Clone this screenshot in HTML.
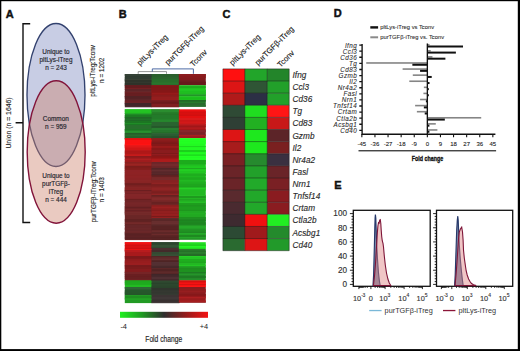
<!DOCTYPE html><html><head><meta charset="utf-8"><style>
html,body{margin:0;padding:0;background:#fff;}
svg{display:block;font-family:"Liberation Sans", sans-serif;}
</style></head><body>
<svg width="520" height="351" viewBox="0 0 520 351">
<rect x="0" y="0" width="520" height="351" fill="#fff"/>

<text x="5.8" y="17.5" font-size="11" font-weight="bold" fill="#111" stroke="#111" stroke-width="0.45">A</text>
<text x="118.8" y="17.7" font-size="11" font-weight="bold" fill="#111" stroke="#111" stroke-width="0.45">B</text>
<text x="222.4" y="17.7" font-size="11" font-weight="bold" fill="#111" stroke="#111" stroke-width="0.45">C</text>
<text x="333.8" y="17.4" font-size="11" font-weight="bold" fill="#111" stroke="#111" stroke-width="0.45">D</text>
<text x="334.3" y="189.3" font-size="11" font-weight="bold" fill="#111" stroke="#111" stroke-width="0.45">E</text>
<ellipse cx="56" cy="95" rx="29.0" ry="71.5" fill="#c8cde4" stroke="#33426f" stroke-width="1.35"/>
<ellipse cx="56.2" cy="152.0" rx="29.0" ry="71.2" fill="rgb(204,128,108)" fill-opacity="0.42" stroke="#82143a" stroke-width="1.4"/>
<path d="M30.2 23.8 H23.0 V222.5 H30.2 M23.0 122.7 H15.6" fill="none" stroke="#111" stroke-width="1.4"/>
<text x="56" y="53.8" font-size="6.4" text-anchor="middle" fill="#26262e" stroke="#26262e" stroke-width="0.16">Unique to</text>
<text x="56" y="61.8" font-size="6.4" text-anchor="middle" fill="#26262e" stroke="#26262e" stroke-width="0.16">pltLys-iTreg</text>
<text x="56" y="69.8" font-size="6.4" text-anchor="middle" fill="#26262e" stroke="#26262e" stroke-width="0.16">n = 243</text>
<text x="55.8" y="121.4" font-size="6.4" text-anchor="middle" fill="#26262e" stroke="#26262e" stroke-width="0.16">Common</text>
<text x="55.8" y="129.4" font-size="6.4" text-anchor="middle" fill="#26262e" stroke="#26262e" stroke-width="0.16">n = 959</text>
<text x="56" y="178.2" font-size="6.4" text-anchor="middle" fill="#26262e" stroke="#26262e" stroke-width="0.16">Unique to</text>
<text x="56" y="186.2" font-size="6.4" text-anchor="middle" fill="#26262e" stroke="#26262e" stroke-width="0.16">purTGFβ-</text>
<text x="56" y="194.0" font-size="6.4" text-anchor="middle" fill="#26262e" stroke="#26262e" stroke-width="0.16">iTreg</text>
<text x="56" y="202.2" font-size="6.4" text-anchor="middle" fill="#26262e" stroke="#26262e" stroke-width="0.16">n = 444</text>
<text transform="translate(95.4 70.8) rotate(-90)" font-size="6.45" text-anchor="middle" fill="#222" stroke="#222" stroke-width="0.12">pltLys-iTreg:Tconv</text>
<text transform="translate(103.6 70.3) rotate(-90)" font-size="6.45" text-anchor="middle" fill="#222" stroke="#222" stroke-width="0.12">n = 1202</text>
<text transform="translate(96.4 191.8) rotate(-90)" font-size="6.45" text-anchor="middle" fill="#222" stroke="#222" stroke-width="0.12">purTGFβ-iTreg:Tconv</text>
<text transform="translate(103.6 189.8) rotate(-90)" font-size="6.45" text-anchor="middle" fill="#222" stroke="#222" stroke-width="0.12">n = 1403</text>
<text transform="translate(10.8 123) rotate(-90)" font-size="6.85" text-anchor="middle" fill="#222" stroke="#222" stroke-width="0.12">Union (n = 1646)</text>
<rect x="124.80" y="74.00" width="27.30" height="5.50" fill="#2f3b31"/>
<rect x="124.80" y="74.00" width="27.30" height="2.10" fill="#344136"/>
<rect x="124.80" y="77.20" width="27.30" height="1.60" fill="#323f35"/>
<rect x="124.80" y="79.00" width="27.30" height="6.70" fill="#343a30"/>
<rect x="124.80" y="79.00" width="27.30" height="1.60" fill="#394035"/>
<rect x="124.80" y="80.10" width="27.30" height="1.60" fill="#2d332a"/>
<rect x="124.80" y="82.80" width="27.30" height="1.60" fill="#2e332a"/>
<rect x="124.80" y="83.90" width="27.30" height="1.80" fill="#2e332a"/>
<rect x="124.80" y="85.20" width="27.30" height="4.30" fill="#6e1f22"/>
<rect x="124.80" y="85.20" width="27.30" height="2.70" fill="#631b1e"/>
<rect x="124.80" y="88.50" width="27.30" height="1.00" fill="#7a2225"/>
<rect x="124.80" y="89.00" width="27.30" height="3.50" fill="#5e2427"/>
<rect x="124.80" y="91.20" width="27.30" height="1.30" fill="#69282b"/>
<rect x="124.80" y="92.00" width="27.30" height="4.50" fill="#6c2023"/>
<rect x="124.80" y="93.10" width="27.30" height="1.60" fill="#661e21"/>
<rect x="124.80" y="95.30" width="27.30" height="1.20" fill="#661e21"/>
<rect x="124.80" y="96.00" width="27.30" height="4.50" fill="#5a2628"/>
<rect x="124.80" y="96.00" width="27.30" height="2.70" fill="#522224"/>
<rect x="124.80" y="100.00" width="27.30" height="3.50" fill="#662224"/>
<rect x="124.80" y="101.10" width="27.30" height="2.40" fill="#6b2325"/>
<rect x="124.80" y="103.00" width="27.30" height="4.30" fill="#4a2a2e"/>
<rect x="124.80" y="103.00" width="27.30" height="2.70" fill="#412528"/>
<rect x="151.60" y="74.00" width="27.80" height="5.50" fill="#2a602c"/>
<rect x="151.60" y="77.20" width="27.80" height="1.60" fill="#2d672f"/>
<rect x="151.60" y="78.30" width="27.80" height="1.20" fill="#2d662f"/>
<rect x="151.60" y="79.00" width="27.80" height="6.70" fill="#286e2b"/>
<rect x="151.60" y="82.30" width="27.80" height="2.10" fill="#2a742d"/>
<rect x="151.60" y="85.20" width="27.80" height="5.30" fill="#8e1a1b"/>
<rect x="151.60" y="85.20" width="27.80" height="1.60" fill="#7f1718"/>
<rect x="151.60" y="86.30" width="27.80" height="2.10" fill="#811718"/>
<rect x="151.60" y="87.90" width="27.80" height="2.10" fill="#811718"/>
<rect x="151.60" y="90.00" width="27.80" height="5.50" fill="#961a1a"/>
<rect x="151.60" y="90.00" width="27.80" height="2.70" fill="#851717"/>
<rect x="151.60" y="94.40" width="27.80" height="1.10" fill="#8f1818"/>
<rect x="151.60" y="95.00" width="27.80" height="5.50" fill="#8a1c1c"/>
<rect x="151.60" y="96.60" width="27.80" height="2.70" fill="#941e1e"/>
<rect x="151.60" y="98.80" width="27.80" height="1.60" fill="#961e1e"/>
<rect x="151.60" y="100.00" width="27.80" height="7.30" fill="#7a1e20"/>
<rect x="151.60" y="101.60" width="27.80" height="2.70" fill="#6c1a1c"/>
<rect x="151.60" y="103.80" width="27.80" height="2.70" fill="#801f21"/>
<rect x="178.90" y="74.00" width="26.90" height="6.00" fill="#821a1c"/>
<rect x="178.90" y="74.00" width="26.90" height="2.20" fill="#8c1c1e"/>
<rect x="178.90" y="76.20" width="26.90" height="1.60" fill="#891b1d"/>
<rect x="178.90" y="80.00" width="26.90" height="5.20" fill="#721e20"/>
<rect x="178.90" y="81.60" width="26.90" height="2.20" fill="#661b1c"/>
<rect x="178.90" y="83.80" width="26.90" height="1.10" fill="#691b1d"/>
<rect x="178.90" y="84.90" width="26.90" height="0.30" fill="#671b1c"/>
<rect x="178.90" y="85.20" width="26.90" height="4.80" fill="#20c020"/>
<rect x="178.90" y="86.30" width="26.90" height="1.60" fill="#1cab1c"/>
<rect x="178.90" y="89.50" width="26.90" height="0.50" fill="#23d323"/>
<rect x="178.90" y="90.00" width="26.90" height="4.00" fill="#1fb420"/>
<rect x="178.90" y="90.00" width="26.90" height="1.60" fill="#21c523"/>
<rect x="178.90" y="91.60" width="26.90" height="1.60" fill="#20bd21"/>
<rect x="178.90" y="93.20" width="26.90" height="0.80" fill="#20bc21"/>
<rect x="178.90" y="94.00" width="26.90" height="2.50" fill="#24962a"/>
<rect x="178.90" y="94.00" width="26.90" height="1.60" fill="#28a72e"/>
<rect x="178.90" y="95.60" width="26.90" height="0.90" fill="#208525"/>
<rect x="178.90" y="96.50" width="26.90" height="3.50" fill="#20d020"/>
<rect x="178.90" y="96.50" width="26.90" height="1.10" fill="#1dc11d"/>
<rect x="178.90" y="97.60" width="26.90" height="1.10" fill="#1bb51b"/>
<rect x="178.90" y="98.70" width="26.90" height="1.30" fill="#1dbe1d"/>
<rect x="178.90" y="100.00" width="26.90" height="3.00" fill="#287a2c"/>
<rect x="178.90" y="100.00" width="26.90" height="1.60" fill="#226a26"/>
<rect x="178.90" y="103.00" width="26.90" height="3.80" fill="#2a6a2e"/>
<rect x="178.90" y="105.20" width="26.90" height="1.10" fill="#2c6f30"/>
<rect x="178.90" y="106.30" width="26.90" height="0.50" fill="#2e7633"/>
<rect x="124.80" y="109.30" width="27.30" height="4.70" fill="#22bb22"/>
<rect x="124.80" y="109.30" width="27.30" height="2.70" fill="#23c323"/>
<rect x="124.80" y="112.60" width="27.30" height="1.40" fill="#24c924"/>
<rect x="124.80" y="113.50" width="27.30" height="4.00" fill="#1f8a26"/>
<rect x="124.80" y="115.10" width="27.30" height="2.10" fill="#1b7b22"/>
<rect x="124.80" y="117.00" width="27.30" height="4.50" fill="#23742a"/>
<rect x="124.80" y="117.00" width="27.30" height="1.60" fill="#1f6625"/>
<rect x="124.80" y="119.20" width="27.30" height="1.60" fill="#216f28"/>
<rect x="124.80" y="120.30" width="27.30" height="1.20" fill="#1f6825"/>
<rect x="124.80" y="121.00" width="27.30" height="4.50" fill="#1f8226"/>
<rect x="124.80" y="121.00" width="27.30" height="2.70" fill="#1c7622"/>
<rect x="124.80" y="123.20" width="27.30" height="1.60" fill="#22912a"/>
<rect x="124.80" y="124.30" width="27.30" height="1.20" fill="#1b7121"/>
<rect x="124.80" y="125.00" width="27.30" height="4.50" fill="#27702c"/>
<rect x="124.80" y="129.00" width="27.30" height="4.50" fill="#23822a"/>
<rect x="124.80" y="129.00" width="27.30" height="2.10" fill="#1f7525"/>
<rect x="124.80" y="130.60" width="27.30" height="2.10" fill="#27922f"/>
<rect x="124.80" y="133.00" width="27.30" height="5.80" fill="#2a6a2e"/>
<rect x="124.80" y="133.00" width="27.30" height="2.10" fill="#255e29"/>
<rect x="124.80" y="134.60" width="27.30" height="1.60" fill="#2c7030"/>
<rect x="124.80" y="135.70" width="27.30" height="2.70" fill="#27632b"/>
<rect x="124.80" y="137.90" width="27.30" height="0.90" fill="#266029"/>
<rect x="124.80" y="138.30" width="27.30" height="7.20" fill="#fa1212"/>
<rect x="124.80" y="138.30" width="27.30" height="1.60" fill="#e61010"/>
<rect x="124.80" y="143.80" width="27.30" height="1.60" fill="#ff1313"/>
<rect x="124.80" y="145.00" width="27.30" height="5.50" fill="#d01616"/>
<rect x="124.80" y="145.00" width="27.30" height="2.10" fill="#e91818"/>
<rect x="124.80" y="146.60" width="27.30" height="1.60" fill="#da1717"/>
<rect x="124.80" y="150.00" width="27.30" height="6.50" fill="#b81a1a"/>
<rect x="124.80" y="151.10" width="27.30" height="2.70" fill="#af1818"/>
<rect x="124.80" y="154.40" width="27.30" height="1.60" fill="#c61c1c"/>
<rect x="124.80" y="155.50" width="27.30" height="1.00" fill="#c31b1b"/>
<rect x="124.80" y="156.00" width="27.30" height="6.50" fill="#9a1c1e"/>
<rect x="124.80" y="156.00" width="27.30" height="1.60" fill="#8d191b"/>
<rect x="124.80" y="158.70" width="27.30" height="1.60" fill="#ad1f21"/>
<rect x="124.80" y="161.40" width="27.30" height="1.10" fill="#a11d1f"/>
<rect x="124.80" y="162.00" width="27.30" height="8.50" fill="#8a201f"/>
<rect x="124.80" y="163.60" width="27.30" height="2.70" fill="#9b2422"/>
<rect x="124.80" y="165.80" width="27.30" height="2.10" fill="#7a1c1b"/>
<rect x="124.80" y="167.40" width="27.30" height="1.60" fill="#801d1c"/>
<rect x="124.80" y="168.50" width="27.30" height="1.60" fill="#841e1d"/>
<rect x="124.80" y="170.00" width="27.30" height="10.50" fill="#822022"/>
<rect x="124.80" y="170.00" width="27.30" height="2.70" fill="#8d2225"/>
<rect x="124.80" y="172.20" width="27.30" height="2.10" fill="#8f2325"/>
<rect x="124.80" y="173.80" width="27.30" height="2.10" fill="#8c2224"/>
<rect x="124.80" y="175.40" width="27.30" height="1.60" fill="#8d2224"/>
<rect x="124.80" y="176.50" width="27.30" height="1.60" fill="#8f2325"/>
<rect x="124.80" y="177.60" width="27.30" height="2.70" fill="#8a2224"/>
<rect x="124.80" y="180.00" width="27.30" height="10.50" fill="#7e2222"/>
<rect x="124.80" y="180.00" width="27.30" height="2.10" fill="#8a2525"/>
<rect x="124.80" y="181.60" width="27.30" height="2.10" fill="#872424"/>
<rect x="124.80" y="183.20" width="27.30" height="2.10" fill="#701e1e"/>
<rect x="124.80" y="187.00" width="27.30" height="2.10" fill="#852424"/>
<rect x="124.80" y="188.60" width="27.30" height="1.60" fill="#852323"/>
<rect x="124.80" y="189.70" width="27.30" height="0.80" fill="#8e2626"/>
<rect x="124.80" y="190.00" width="27.30" height="10.50" fill="#762224"/>
<rect x="124.80" y="190.00" width="27.30" height="1.60" fill="#6b1e20"/>
<rect x="124.80" y="191.10" width="27.30" height="2.10" fill="#7f2426"/>
<rect x="124.80" y="193.80" width="27.30" height="2.70" fill="#842628"/>
<rect x="124.80" y="196.00" width="27.30" height="2.70" fill="#832528"/>
<rect x="124.80" y="199.30" width="27.30" height="1.20" fill="#671d1f"/>
<rect x="124.80" y="200.00" width="27.30" height="12.50" fill="#702426"/>
<rect x="124.80" y="202.20" width="27.30" height="2.70" fill="#772628"/>
<rect x="124.80" y="205.50" width="27.30" height="1.60" fill="#792729"/>
<rect x="124.80" y="206.60" width="27.30" height="1.60" fill="#621f21"/>
<rect x="124.80" y="207.70" width="27.30" height="1.60" fill="#692223"/>
<rect x="124.80" y="208.80" width="27.30" height="1.60" fill="#772628"/>
<rect x="124.80" y="209.90" width="27.30" height="2.10" fill="#682123"/>
<rect x="124.80" y="211.50" width="27.30" height="1.00" fill="#792729"/>
<rect x="124.80" y="212.00" width="27.30" height="13.50" fill="#6a2626"/>
<rect x="124.80" y="212.00" width="27.30" height="1.60" fill="#752a2a"/>
<rect x="124.80" y="213.10" width="27.30" height="2.10" fill="#742929"/>
<rect x="124.80" y="219.10" width="27.30" height="2.70" fill="#5f2222"/>
<rect x="124.80" y="222.40" width="27.30" height="1.60" fill="#742929"/>
<rect x="124.80" y="224.60" width="27.30" height="0.90" fill="#602222"/>
<rect x="124.80" y="225.00" width="27.30" height="15.10" fill="#662628"/>
<rect x="124.80" y="227.70" width="27.30" height="2.10" fill="#6a2729"/>
<rect x="124.80" y="231.50" width="27.30" height="1.60" fill="#70292b"/>
<rect x="124.80" y="232.60" width="27.30" height="1.60" fill="#5f2325"/>
<rect x="124.80" y="233.70" width="27.30" height="2.10" fill="#592123"/>
<rect x="124.80" y="236.40" width="27.30" height="2.70" fill="#592123"/>
<rect x="151.60" y="109.30" width="27.80" height="6.20" fill="#267e2a"/>
<rect x="151.60" y="109.30" width="27.80" height="2.70" fill="#2a8d2f"/>
<rect x="151.60" y="113.70" width="27.80" height="1.80" fill="#237627"/>
<rect x="151.60" y="115.00" width="27.80" height="7.50" fill="#237a2a"/>
<rect x="151.60" y="118.80" width="27.80" height="1.60" fill="#24802c"/>
<rect x="151.60" y="119.90" width="27.80" height="2.10" fill="#26872e"/>
<rect x="151.60" y="121.50" width="27.80" height="1.00" fill="#26842d"/>
<rect x="151.60" y="122.00" width="27.80" height="6.50" fill="#2a6430"/>
<rect x="151.60" y="124.70" width="27.80" height="1.60" fill="#2b6832"/>
<rect x="151.60" y="125.80" width="27.80" height="2.10" fill="#25582a"/>
<rect x="151.60" y="127.40" width="27.80" height="1.10" fill="#275e2d"/>
<rect x="151.60" y="128.00" width="27.80" height="5.50" fill="#26722c"/>
<rect x="151.60" y="128.00" width="27.80" height="1.60" fill="#297d30"/>
<rect x="151.60" y="129.10" width="27.80" height="1.60" fill="#2a7f31"/>
<rect x="151.60" y="130.20" width="27.80" height="2.70" fill="#27762d"/>
<rect x="151.60" y="132.40" width="27.80" height="1.10" fill="#236a29"/>
<rect x="151.60" y="133.00" width="27.80" height="5.80" fill="#2a5a30"/>
<rect x="151.60" y="133.00" width="27.80" height="1.60" fill="#2f6435"/>
<rect x="151.60" y="134.10" width="27.80" height="1.60" fill="#2c5f33"/>
<rect x="151.60" y="136.30" width="27.80" height="2.10" fill="#26522b"/>
<rect x="151.60" y="137.90" width="27.80" height="0.90" fill="#2d6134"/>
<rect x="151.60" y="138.30" width="27.80" height="6.20" fill="#8a1c1c"/>
<rect x="151.60" y="138.30" width="27.80" height="1.60" fill="#911d1d"/>
<rect x="151.60" y="141.60" width="27.80" height="2.10" fill="#7f1919"/>
<rect x="151.60" y="143.20" width="27.80" height="1.30" fill="#7b1919"/>
<rect x="151.60" y="144.00" width="27.80" height="6.50" fill="#9a1c1c"/>
<rect x="151.60" y="144.00" width="27.80" height="2.10" fill="#861818"/>
<rect x="151.60" y="147.80" width="27.80" height="2.70" fill="#861818"/>
<rect x="151.60" y="150.00" width="27.80" height="6.50" fill="#8a1c1e"/>
<rect x="151.60" y="153.20" width="27.80" height="1.60" fill="#7c191a"/>
<rect x="151.60" y="154.30" width="27.80" height="1.60" fill="#9a1f21"/>
<rect x="151.60" y="155.40" width="27.80" height="1.10" fill="#7b181a"/>
<rect x="151.60" y="156.00" width="27.80" height="6.50" fill="#a01a1a"/>
<rect x="151.60" y="156.00" width="27.80" height="2.10" fill="#8c1616"/>
<rect x="151.60" y="157.60" width="27.80" height="1.60" fill="#961818"/>
<rect x="151.60" y="158.70" width="27.80" height="1.60" fill="#ad1c1c"/>
<rect x="151.60" y="159.80" width="27.80" height="2.70" fill="#ad1c1c"/>
<rect x="151.60" y="162.00" width="27.80" height="6.50" fill="#6a2628"/>
<rect x="151.60" y="163.60" width="27.80" height="2.70" fill="#752a2c"/>
<rect x="151.60" y="168.00" width="27.80" height="7.50" fill="#5c2a2c"/>
<rect x="151.60" y="168.00" width="27.80" height="2.10" fill="#522527"/>
<rect x="151.60" y="169.60" width="27.80" height="1.60" fill="#632d2f"/>
<rect x="151.60" y="171.80" width="27.80" height="1.60" fill="#562729"/>
<rect x="151.60" y="174.00" width="27.80" height="1.50" fill="#522527"/>
<rect x="151.60" y="175.00" width="27.80" height="5.50" fill="#6c2626"/>
<rect x="151.60" y="175.00" width="27.80" height="1.60" fill="#5f2121"/>
<rect x="151.60" y="177.20" width="27.80" height="2.10" fill="#792a2a"/>
<rect x="151.60" y="178.80" width="27.80" height="1.70" fill="#772a2a"/>
<rect x="151.60" y="180.00" width="27.80" height="15.50" fill="#862222"/>
<rect x="151.60" y="182.70" width="27.80" height="1.60" fill="#952525"/>
<rect x="151.60" y="183.80" width="27.80" height="1.60" fill="#7d1f1f"/>
<rect x="151.60" y="184.90" width="27.80" height="1.60" fill="#7b1f1f"/>
<rect x="151.60" y="187.60" width="27.80" height="2.70" fill="#8f2424"/>
<rect x="151.60" y="191.40" width="27.80" height="2.70" fill="#7a1f1f"/>
<rect x="151.60" y="193.60" width="27.80" height="1.90" fill="#902424"/>
<rect x="151.60" y="195.00" width="27.80" height="10.50" fill="#742626"/>
<rect x="151.60" y="195.00" width="27.80" height="2.10" fill="#662121"/>
<rect x="151.60" y="196.60" width="27.80" height="1.60" fill="#7b2828"/>
<rect x="151.60" y="197.70" width="27.80" height="2.70" fill="#822a2a"/>
<rect x="151.60" y="202.10" width="27.80" height="2.10" fill="#682222"/>
<rect x="151.60" y="205.00" width="27.80" height="13.50" fill="#8a1e1e"/>
<rect x="151.60" y="206.60" width="27.80" height="2.10" fill="#9a2121"/>
<rect x="151.60" y="208.20" width="27.80" height="2.10" fill="#901f1f"/>
<rect x="151.60" y="209.80" width="27.80" height="1.60" fill="#841c1c"/>
<rect x="151.60" y="210.90" width="27.80" height="2.70" fill="#921f1f"/>
<rect x="151.60" y="214.20" width="27.80" height="2.10" fill="#9b2121"/>
<rect x="151.60" y="215.80" width="27.80" height="1.60" fill="#781a1a"/>
<rect x="151.60" y="216.90" width="27.80" height="1.60" fill="#921f1f"/>
<rect x="151.60" y="218.00" width="27.80" height="8.50" fill="#5e2a2a"/>
<rect x="151.60" y="219.60" width="27.80" height="1.60" fill="#532525"/>
<rect x="151.60" y="220.70" width="27.80" height="2.10" fill="#672e2e"/>
<rect x="151.60" y="222.30" width="27.80" height="2.70" fill="#692f2f"/>
<rect x="151.60" y="224.50" width="27.80" height="2.00" fill="#572727"/>
<rect x="151.60" y="226.00" width="27.80" height="14.10" fill="#622828"/>
<rect x="151.60" y="226.00" width="27.80" height="2.10" fill="#562323"/>
<rect x="151.60" y="227.60" width="27.80" height="1.60" fill="#592424"/>
<rect x="151.60" y="228.70" width="27.80" height="2.10" fill="#552222"/>
<rect x="151.60" y="230.30" width="27.80" height="2.10" fill="#6d2c2c"/>
<rect x="151.60" y="231.90" width="27.80" height="2.70" fill="#5d2626"/>
<rect x="151.60" y="234.10" width="27.80" height="1.60" fill="#6d2c2c"/>
<rect x="151.60" y="235.20" width="27.80" height="2.10" fill="#5a2525"/>
<rect x="151.60" y="236.80" width="27.80" height="1.60" fill="#552222"/>
<rect x="151.60" y="237.90" width="27.80" height="2.10" fill="#572323"/>
<rect x="178.90" y="109.30" width="26.90" height="8.70" fill="#ee1212"/>
<rect x="178.90" y="110.90" width="26.90" height="1.10" fill="#de1010"/>
<rect x="178.90" y="112.00" width="26.90" height="1.10" fill="#d41010"/>
<rect x="178.90" y="113.10" width="26.90" height="1.10" fill="#d71010"/>
<rect x="178.90" y="114.20" width="26.90" height="2.20" fill="#d10f0f"/>
<rect x="178.90" y="116.40" width="26.90" height="1.10" fill="#e11111"/>
<rect x="178.90" y="117.50" width="26.90" height="0.50" fill="#dd1010"/>
<rect x="178.90" y="118.00" width="26.90" height="6.00" fill="#c41818"/>
<rect x="178.90" y="118.00" width="26.90" height="2.20" fill="#db1a1a"/>
<rect x="178.90" y="120.20" width="26.90" height="1.10" fill="#cc1818"/>
<rect x="178.90" y="121.30" width="26.90" height="2.20" fill="#d21919"/>
<rect x="178.90" y="124.00" width="26.90" height="6.00" fill="#b01a1c"/>
<rect x="178.90" y="124.00" width="26.90" height="1.60" fill="#ba1b1d"/>
<rect x="178.90" y="125.60" width="26.90" height="1.60" fill="#9f1719"/>
<rect x="178.90" y="129.40" width="26.90" height="0.60" fill="#9b1618"/>
<rect x="178.90" y="130.00" width="26.90" height="5.00" fill="#7c2228"/>
<rect x="178.90" y="130.00" width="26.90" height="2.20" fill="#88252c"/>
<rect x="178.90" y="134.40" width="26.90" height="0.60" fill="#86242b"/>
<rect x="178.90" y="135.00" width="26.90" height="3.30" fill="#9a1c1e"/>
<rect x="178.90" y="135.00" width="26.90" height="1.10" fill="#aa1e21"/>
<rect x="178.90" y="138.30" width="26.90" height="11.70" fill="#22fa22"/>
<rect x="178.90" y="138.30" width="26.90" height="1.10" fill="#24ff24"/>
<rect x="178.90" y="139.40" width="26.90" height="2.20" fill="#24ff24"/>
<rect x="178.90" y="141.60" width="26.90" height="2.20" fill="#23ff23"/>
<rect x="178.90" y="146.00" width="26.90" height="1.10" fill="#1ddb1d"/>
<rect x="178.90" y="150.00" width="26.90" height="10.00" fill="#20ee20"/>
<rect x="178.90" y="150.00" width="26.90" height="2.20" fill="#1bd01b"/>
<rect x="178.90" y="152.20" width="26.90" height="2.20" fill="#21f921"/>
<rect x="178.90" y="154.40" width="26.90" height="1.60" fill="#1edf1e"/>
<rect x="178.90" y="156.00" width="26.90" height="1.60" fill="#22ff22"/>
<rect x="178.90" y="157.60" width="26.90" height="2.20" fill="#23ff23"/>
<rect x="178.90" y="160.00" width="26.90" height="8.00" fill="#20c020"/>
<rect x="178.90" y="160.00" width="26.90" height="2.20" fill="#1cab1c"/>
<rect x="178.90" y="162.20" width="26.90" height="2.20" fill="#1caa1c"/>
<rect x="178.90" y="166.60" width="26.90" height="1.10" fill="#22d122"/>
<rect x="178.90" y="167.70" width="26.90" height="0.30" fill="#21cb21"/>
<rect x="178.90" y="168.00" width="26.90" height="12.00" fill="#20b820"/>
<rect x="178.90" y="168.00" width="26.90" height="1.10" fill="#1dab1d"/>
<rect x="178.90" y="169.10" width="26.90" height="2.20" fill="#23ce23"/>
<rect x="178.90" y="171.30" width="26.90" height="1.60" fill="#22c822"/>
<rect x="178.90" y="174.00" width="26.90" height="2.20" fill="#1ead1e"/>
<rect x="178.90" y="177.30" width="26.90" height="2.20" fill="#1da91d"/>
<rect x="178.90" y="179.50" width="26.90" height="0.50" fill="#1da71d"/>
<rect x="178.90" y="180.00" width="26.90" height="15.00" fill="#22b822"/>
<rect x="178.90" y="181.60" width="26.90" height="2.20" fill="#20ae20"/>
<rect x="178.90" y="183.80" width="26.90" height="2.20" fill="#1ea61e"/>
<rect x="178.90" y="186.00" width="26.90" height="1.60" fill="#1ea21e"/>
<rect x="178.90" y="187.60" width="26.90" height="1.60" fill="#26ce26"/>
<rect x="178.90" y="189.20" width="26.90" height="1.10" fill="#23c123"/>
<rect x="178.90" y="195.00" width="26.90" height="10.00" fill="#22a822"/>
<rect x="178.90" y="195.00" width="26.90" height="1.10" fill="#26bd26"/>
<rect x="178.90" y="196.10" width="26.90" height="2.20" fill="#1f9a1f"/>
<rect x="178.90" y="198.30" width="26.90" height="1.10" fill="#25bb25"/>
<rect x="178.90" y="199.40" width="26.90" height="1.10" fill="#209e20"/>
<rect x="178.90" y="200.50" width="26.90" height="1.10" fill="#24b524"/>
<rect x="178.90" y="201.60" width="26.90" height="1.60" fill="#26bd26"/>
<rect x="178.90" y="203.20" width="26.90" height="1.60" fill="#1f9b1f"/>
<rect x="178.90" y="205.00" width="26.90" height="13.00" fill="#22a822"/>
<rect x="178.90" y="205.00" width="26.90" height="1.10" fill="#1e951e"/>
<rect x="178.90" y="206.10" width="26.90" height="1.10" fill="#1e981e"/>
<rect x="178.90" y="207.20" width="26.90" height="2.20" fill="#1f9d1f"/>
<rect x="178.90" y="209.40" width="26.90" height="1.60" fill="#1e971e"/>
<rect x="178.90" y="213.20" width="26.90" height="1.10" fill="#23b023"/>
<rect x="178.90" y="217.00" width="26.90" height="1.00" fill="#1d921d"/>
<rect x="178.90" y="218.00" width="26.90" height="6.00" fill="#1f8a22"/>
<rect x="178.90" y="218.00" width="26.90" height="1.60" fill="#209023"/>
<rect x="178.90" y="219.60" width="26.90" height="1.60" fill="#1d8220"/>
<rect x="178.90" y="222.30" width="26.90" height="1.60" fill="#1d8320"/>
<rect x="178.90" y="224.00" width="26.90" height="15.60" fill="#239a26"/>
<rect x="178.90" y="224.00" width="26.90" height="1.60" fill="#1e8621"/>
<rect x="178.90" y="225.60" width="26.90" height="1.60" fill="#26a729"/>
<rect x="178.90" y="227.20" width="26.90" height="1.10" fill="#27ab2a"/>
<rect x="178.90" y="228.30" width="26.90" height="1.10" fill="#24a228"/>
<rect x="178.90" y="229.40" width="26.90" height="2.20" fill="#219123"/>
<rect x="178.90" y="231.60" width="26.90" height="1.60" fill="#1f8821"/>
<rect x="178.90" y="233.20" width="26.90" height="1.60" fill="#27ad2a"/>
<rect x="178.90" y="234.80" width="26.90" height="2.20" fill="#1f8921"/>
<rect x="178.90" y="237.00" width="26.90" height="1.60" fill="#25a428"/>
<rect x="178.90" y="238.60" width="26.90" height="1.00" fill="#219123"/>
<rect x="124.80" y="242.20" width="27.30" height="8.30" fill="#e01212"/>
<rect x="124.80" y="242.20" width="27.30" height="1.60" fill="#f31313"/>
<rect x="124.80" y="244.90" width="27.30" height="1.60" fill="#d11010"/>
<rect x="124.80" y="247.60" width="27.30" height="2.10" fill="#cd1010"/>
<rect x="124.80" y="249.20" width="27.30" height="1.30" fill="#f01313"/>
<rect x="124.80" y="250.00" width="27.30" height="6.50" fill="#a81a1c"/>
<rect x="124.80" y="250.00" width="27.30" height="2.10" fill="#b81c1e"/>
<rect x="124.80" y="256.00" width="27.30" height="9.50" fill="#8e1c1e"/>
<rect x="124.80" y="256.00" width="27.30" height="2.70" fill="#7e181a"/>
<rect x="124.80" y="260.40" width="27.30" height="2.70" fill="#971d1f"/>
<rect x="124.80" y="262.60" width="27.30" height="2.70" fill="#9b1e20"/>
<rect x="124.80" y="265.00" width="27.30" height="7.50" fill="#8a1e20"/>
<rect x="124.80" y="265.00" width="27.30" height="2.10" fill="#791a1c"/>
<rect x="124.80" y="266.60" width="27.30" height="2.70" fill="#7c1b1c"/>
<rect x="124.80" y="270.40" width="27.30" height="2.10" fill="#821c1e"/>
<rect x="124.80" y="272.00" width="27.30" height="9.00" fill="#702224"/>
<rect x="124.80" y="272.00" width="27.30" height="2.70" fill="#762426"/>
<rect x="124.80" y="274.20" width="27.30" height="2.70" fill="#691f21"/>
<rect x="124.80" y="276.40" width="27.30" height="2.70" fill="#681f21"/>
<rect x="124.80" y="280.50" width="27.30" height="7.00" fill="#22bb22"/>
<rect x="124.80" y="280.50" width="27.30" height="2.10" fill="#1ea81e"/>
<rect x="124.80" y="282.10" width="27.30" height="2.70" fill="#1faa1f"/>
<rect x="124.80" y="287.00" width="27.30" height="8.50" fill="#2a5e30"/>
<rect x="124.80" y="287.00" width="27.30" height="2.10" fill="#2e6735"/>
<rect x="124.80" y="290.20" width="27.30" height="2.70" fill="#26562c"/>
<rect x="124.80" y="292.40" width="27.30" height="1.60" fill="#26562b"/>
<rect x="124.80" y="293.50" width="27.30" height="2.00" fill="#25542a"/>
<rect x="124.80" y="295.00" width="27.30" height="8.10" fill="#229a24"/>
<rect x="124.80" y="296.10" width="27.30" height="2.70" fill="#1f8e21"/>
<rect x="124.80" y="298.30" width="27.30" height="1.60" fill="#24a326"/>
<rect x="151.60" y="242.20" width="27.80" height="6.30" fill="#2f4a30"/>
<rect x="151.60" y="242.20" width="27.80" height="2.10" fill="#2c452d"/>
<rect x="151.60" y="244.90" width="27.80" height="2.70" fill="#345235"/>
<rect x="151.60" y="247.10" width="27.80" height="1.40" fill="#314d32"/>
<rect x="151.60" y="248.00" width="27.80" height="4.50" fill="#4a3030"/>
<rect x="151.60" y="250.20" width="27.80" height="1.60" fill="#422a2a"/>
<rect x="151.60" y="252.00" width="27.80" height="4.50" fill="#334a32"/>
<rect x="151.60" y="254.20" width="27.80" height="2.10" fill="#375036"/>
<rect x="151.60" y="256.00" width="27.80" height="6.50" fill="#5a2a2a"/>
<rect x="151.60" y="256.00" width="27.80" height="1.60" fill="#512525"/>
<rect x="151.60" y="257.10" width="27.80" height="2.10" fill="#5e2c2c"/>
<rect x="151.60" y="258.70" width="27.80" height="2.10" fill="#642f2f"/>
<rect x="151.60" y="260.30" width="27.80" height="2.10" fill="#4e2424"/>
<rect x="151.60" y="262.00" width="27.80" height="6.50" fill="#4c2c2e"/>
<rect x="151.60" y="262.00" width="27.80" height="2.10" fill="#543033"/>
<rect x="151.60" y="263.60" width="27.80" height="2.70" fill="#533032"/>
<rect x="151.60" y="265.80" width="27.80" height="2.10" fill="#47292a"/>
<rect x="151.60" y="267.40" width="27.80" height="1.10" fill="#46282a"/>
<rect x="151.60" y="268.00" width="27.80" height="6.50" fill="#5a2828"/>
<rect x="151.60" y="269.10" width="27.80" height="2.70" fill="#502323"/>
<rect x="151.60" y="271.30" width="27.80" height="2.70" fill="#5e2a2a"/>
<rect x="151.60" y="273.50" width="27.80" height="1.00" fill="#502323"/>
<rect x="151.60" y="274.00" width="27.80" height="7.00" fill="#4a2c30"/>
<rect x="151.60" y="274.00" width="27.80" height="1.60" fill="#402629"/>
<rect x="151.60" y="275.10" width="27.80" height="1.60" fill="#44282c"/>
<rect x="151.60" y="277.30" width="27.80" height="2.10" fill="#523135"/>
<rect x="151.60" y="278.90" width="27.80" height="2.10" fill="#45292c"/>
<rect x="151.60" y="280.50" width="27.80" height="8.00" fill="#2f4a30"/>
<rect x="151.60" y="282.70" width="27.80" height="1.60" fill="#2a422b"/>
<rect x="151.60" y="285.40" width="27.80" height="2.70" fill="#2b442c"/>
<rect x="151.60" y="287.60" width="27.80" height="0.90" fill="#2b442c"/>
<rect x="151.60" y="288.00" width="27.80" height="7.50" fill="#383c34"/>
<rect x="151.60" y="288.00" width="27.80" height="2.70" fill="#30342d"/>
<rect x="151.60" y="290.20" width="27.80" height="2.70" fill="#353831"/>
<rect x="151.60" y="292.40" width="27.80" height="2.10" fill="#343831"/>
<rect x="151.60" y="295.00" width="27.80" height="8.10" fill="#3c3434"/>
<rect x="151.60" y="297.20" width="27.80" height="1.60" fill="#433a3a"/>
<rect x="151.60" y="300.50" width="27.80" height="1.60" fill="#342d2d"/>
<rect x="151.60" y="301.60" width="27.80" height="1.50" fill="#423939"/>
<rect x="178.90" y="242.20" width="26.90" height="6.80" fill="#22dd22"/>
<rect x="178.90" y="244.40" width="26.90" height="1.60" fill="#1fcd1f"/>
<rect x="178.90" y="246.00" width="26.90" height="1.60" fill="#25f525"/>
<rect x="178.90" y="248.70" width="26.90" height="0.30" fill="#20d320"/>
<rect x="178.90" y="249.00" width="26.90" height="7.00" fill="#2a7a2c"/>
<rect x="178.90" y="250.60" width="26.90" height="1.60" fill="#267028"/>
<rect x="178.90" y="252.20" width="26.90" height="1.60" fill="#2c812e"/>
<rect x="178.90" y="253.80" width="26.90" height="2.20" fill="#256c27"/>
<rect x="178.90" y="256.00" width="26.90" height="10.00" fill="#22b822"/>
<rect x="178.90" y="256.00" width="26.90" height="1.60" fill="#26ce26"/>
<rect x="178.90" y="257.60" width="26.90" height="1.60" fill="#24c424"/>
<rect x="178.90" y="259.20" width="26.90" height="1.10" fill="#1fab1f"/>
<rect x="178.90" y="260.30" width="26.90" height="1.10" fill="#1fac1f"/>
<rect x="178.90" y="261.40" width="26.90" height="1.60" fill="#1ea51e"/>
<rect x="178.90" y="265.20" width="26.90" height="0.80" fill="#25ca25"/>
<rect x="178.90" y="266.00" width="26.90" height="6.00" fill="#22a024"/>
<rect x="178.90" y="267.60" width="26.90" height="2.20" fill="#1e8d1f"/>
<rect x="178.90" y="269.80" width="26.90" height="2.20" fill="#1e9120"/>
<rect x="178.90" y="272.00" width="26.90" height="8.50" fill="#238a28"/>
<rect x="178.90" y="272.00" width="26.90" height="1.60" fill="#1e7a23"/>
<rect x="178.90" y="273.60" width="26.90" height="1.10" fill="#279b2c"/>
<rect x="178.90" y="275.80" width="26.90" height="2.20" fill="#1e7a23"/>
<rect x="178.90" y="279.60" width="26.90" height="0.90" fill="#26972b"/>
<rect x="178.90" y="280.50" width="26.90" height="6.50" fill="#ee1212"/>
<rect x="178.90" y="280.50" width="26.90" height="2.20" fill="#d61010"/>
<rect x="178.90" y="282.70" width="26.90" height="1.10" fill="#ff1414"/>
<rect x="178.90" y="283.80" width="26.90" height="1.60" fill="#da1010"/>
<rect x="178.90" y="285.40" width="26.90" height="1.60" fill="#ff1414"/>
<rect x="178.90" y="287.00" width="26.90" height="7.00" fill="#8a1c1e"/>
<rect x="178.90" y="289.20" width="26.90" height="1.60" fill="#8f1d1f"/>
<rect x="178.90" y="290.80" width="26.90" height="1.60" fill="#961e20"/>
<rect x="178.90" y="294.00" width="26.90" height="8.60" fill="#9a1c1e"/>
<rect x="178.90" y="294.00" width="26.90" height="1.10" fill="#86181a"/>
<rect x="178.90" y="295.10" width="26.90" height="1.60" fill="#89181a"/>
<rect x="178.90" y="296.70" width="26.90" height="1.60" fill="#ac1f21"/>
<rect x="178.90" y="300.50" width="26.90" height="1.60" fill="#a61e20"/>
<rect x="178.90" y="302.10" width="26.90" height="0.50" fill="#89181a"/>
<path d="M138.2 73.8 V71.6 H166.5 V73.8" fill="none" stroke="#8a8a8a" stroke-width="0.9"/>
<path d="M152.3 71.6 V68.9 H193.4 V73.8" fill="none" stroke="#3a5a9a" stroke-width="0.9"/>
<text transform="translate(140.0 66.0) rotate(-45)" font-size="7.8" fill="#222" stroke="#222" stroke-width="0.15">pltLys-iTreg</text>
<text transform="translate(168.0 65.6) rotate(-45)" font-size="7.8" fill="#222" stroke="#222" stroke-width="0.15">purTGFβ-iTreg</text>
<text transform="translate(193.2 67.2) rotate(-45)" font-size="7.8" fill="#222" stroke="#222" stroke-width="0.15">Tconv</text>
<defs><linearGradient id="gs" x1="0" x2="1" y1="0" y2="0">
<stop offset="0" stop-color="#1ff01f"/><stop offset="0.25" stop-color="#1f9a22"/><stop offset="0.5" stop-color="#2e2e2e"/><stop offset="0.75" stop-color="#961c1c"/><stop offset="1" stop-color="#f41212"/></linearGradient></defs>
<rect x="120" y="311.8" width="88" height="6" fill="url(#gs)"/>
<text x="120.4" y="328.8" font-size="7.4" fill="#222">-4</text>
<text x="208.2" y="328.8" font-size="7.4" fill="#222" text-anchor="end">+4</text>
<text transform="translate(163.7 341.5) scale(0.77 1)" font-size="8.7" fill="#222" stroke="#222" stroke-width="0.15" text-anchor="middle">Fold change</text>
<rect x="222.90" y="68.90" width="22.40" height="12.62" fill="#ff1010"/>
<rect x="244.80" y="68.90" width="22.90" height="12.62" fill="#22a52a"/>
<rect x="267.20" y="68.90" width="22.00" height="12.12" fill="#23852a"/>
<text x="292.4" y="77.96" font-size="8.2" font-style="italic" fill="#2a2a2a" stroke="#2a2a2a" stroke-width="0.14" letter-spacing="0.1">Ifng</text>
<rect x="222.90" y="81.02" width="22.40" height="12.62" fill="#dd1515"/>
<rect x="244.80" y="81.02" width="22.90" height="12.62" fill="#2f5535"/>
<rect x="267.20" y="81.02" width="22.00" height="12.12" fill="#22a02a"/>
<text x="292.4" y="90.08" font-size="8.2" font-style="italic" fill="#2a2a2a" stroke="#2a2a2a" stroke-width="0.14" letter-spacing="0.1">Ccl3</text>
<rect x="222.90" y="93.14" width="22.40" height="12.62" fill="#b01a1a"/>
<rect x="244.80" y="93.14" width="22.90" height="12.62" fill="#2c2f45"/>
<rect x="267.20" y="93.14" width="22.00" height="12.12" fill="#22a02a"/>
<text x="292.4" y="102.20" font-size="8.2" font-style="italic" fill="#2a2a2a" stroke="#2a2a2a" stroke-width="0.14" letter-spacing="0.1">Cd36</text>
<rect x="222.90" y="105.26" width="22.40" height="12.62" fill="#2f4a35"/>
<rect x="244.80" y="105.26" width="22.90" height="12.62" fill="#20dd20"/>
<rect x="267.20" y="105.26" width="22.00" height="12.12" fill="#ff1515"/>
<text x="292.4" y="114.32" font-size="8.2" font-style="italic" fill="#2a2a2a" stroke="#2a2a2a" stroke-width="0.14" letter-spacing="0.1">Tg</text>
<rect x="222.90" y="117.38" width="22.40" height="12.62" fill="#2f3f35"/>
<rect x="244.80" y="117.38" width="22.90" height="12.62" fill="#22b022"/>
<rect x="267.20" y="117.38" width="22.00" height="12.12" fill="#c81818"/>
<text x="292.4" y="126.44" font-size="8.2" font-style="italic" fill="#2a2a2a" stroke="#2a2a2a" stroke-width="0.14" letter-spacing="0.1">Cd83</text>
<rect x="222.90" y="129.50" width="22.40" height="12.62" fill="#dd1515"/>
<rect x="244.80" y="129.50" width="22.90" height="12.62" fill="#1ee81e"/>
<rect x="267.20" y="129.50" width="22.00" height="12.12" fill="#5c2428"/>
<text x="292.4" y="138.56" font-size="8.2" font-style="italic" fill="#2a2a2a" stroke="#2a2a2a" stroke-width="0.14" letter-spacing="0.1">Gzmb</text>
<rect x="222.90" y="141.62" width="22.40" height="12.62" fill="#a81c1c"/>
<rect x="244.80" y="141.62" width="22.90" height="12.62" fill="#1ee81e"/>
<rect x="267.20" y="141.62" width="22.00" height="12.12" fill="#7a2020"/>
<text x="292.4" y="150.68" font-size="8.2" font-style="italic" fill="#2a2a2a" stroke="#2a2a2a" stroke-width="0.14" letter-spacing="0.1">Il2</text>
<rect x="222.90" y="153.74" width="22.40" height="12.62" fill="#7a2024"/>
<rect x="244.80" y="153.74" width="22.90" height="12.62" fill="#268a2e"/>
<rect x="267.20" y="153.74" width="22.00" height="12.12" fill="#3a3040"/>
<text x="292.4" y="162.80" font-size="8.2" font-style="italic" fill="#2a2a2a" stroke="#2a2a2a" stroke-width="0.14" letter-spacing="0.1">Nr4a2</text>
<rect x="222.90" y="165.86" width="22.40" height="12.62" fill="#6a2428"/>
<rect x="244.80" y="165.86" width="22.90" height="12.62" fill="#22a02a"/>
<rect x="267.20" y="165.86" width="22.00" height="12.12" fill="#6a2428"/>
<text x="292.4" y="174.92" font-size="8.2" font-style="italic" fill="#2a2a2a" stroke="#2a2a2a" stroke-width="0.14" letter-spacing="0.1">Fasl</text>
<rect x="222.90" y="177.98" width="22.40" height="12.62" fill="#6a2428"/>
<rect x="244.80" y="177.98" width="22.90" height="12.62" fill="#22aa2a"/>
<rect x="267.20" y="177.98" width="22.00" height="12.12" fill="#7a2024"/>
<text x="292.4" y="187.04" font-size="8.2" font-style="italic" fill="#2a2a2a" stroke="#2a2a2a" stroke-width="0.14" letter-spacing="0.1">Nrn1</text>
<rect x="222.90" y="190.10" width="22.40" height="12.62" fill="#5a2a2e"/>
<rect x="244.80" y="190.10" width="22.90" height="12.62" fill="#22a82a"/>
<rect x="267.20" y="190.10" width="22.00" height="12.12" fill="#8a1c20"/>
<text x="292.4" y="199.16" font-size="8.2" font-style="italic" fill="#2a2a2a" stroke="#2a2a2a" stroke-width="0.14" letter-spacing="0.1">Tnfsf14</text>
<rect x="222.90" y="202.22" width="22.40" height="12.62" fill="#4a2a30"/>
<rect x="244.80" y="202.22" width="22.90" height="12.62" fill="#22a82a"/>
<rect x="267.20" y="202.22" width="22.00" height="12.12" fill="#8a1c20"/>
<text x="292.4" y="211.28" font-size="8.2" font-style="italic" fill="#2a2a2a" stroke="#2a2a2a" stroke-width="0.14" letter-spacing="0.1">Crtam</text>
<rect x="222.90" y="214.34" width="22.40" height="12.62" fill="#3e2a30"/>
<rect x="244.80" y="214.34" width="22.90" height="12.62" fill="#f01010"/>
<rect x="267.20" y="214.34" width="22.00" height="12.12" fill="#22ee22"/>
<text x="292.4" y="223.40" font-size="8.2" font-style="italic" fill="#2a2a2a" stroke="#2a2a2a" stroke-width="0.14" letter-spacing="0.1">Ctla2b</text>
<rect x="222.90" y="226.46" width="22.40" height="12.62" fill="#2c4a34"/>
<rect x="244.80" y="226.46" width="22.90" height="12.62" fill="#a01a1c"/>
<rect x="267.20" y="226.46" width="22.00" height="12.12" fill="#248a2c"/>
<text x="292.4" y="235.52" font-size="8.2" font-style="italic" fill="#2a2a2a" stroke="#2a2a2a" stroke-width="0.14" letter-spacing="0.1">Acsbg1</text>
<rect x="222.90" y="238.58" width="21.90" height="12.12" fill="#2a6a30"/>
<rect x="244.80" y="238.58" width="22.40" height="12.12" fill="#dd1515"/>
<rect x="267.20" y="238.58" width="22.00" height="12.12" fill="#229a2a"/>
<text x="292.4" y="247.64" font-size="8.2" font-style="italic" fill="#2a2a2a" stroke="#2a2a2a" stroke-width="0.14" letter-spacing="0.1">Cd40</text>
<path d="M222.9 68.90 H289.2 M222.9 81.02 H289.2 M222.9 93.14 H289.2 M222.9 105.26 H289.2 M222.9 117.38 H289.2 M222.9 129.50 H289.2 M222.9 141.62 H289.2 M222.9 153.74 H289.2 M222.9 165.86 H289.2 M222.9 177.98 H289.2 M222.9 190.10 H289.2 M222.9 202.22 H289.2 M222.9 214.34 H289.2 M222.9 226.46 H289.2 M222.9 238.58 H289.2 M222.9 250.70 H289.2 M222.9 68.9 V250.70 M244.8 68.9 V250.70 M267.2 68.9 V250.70 M289.2 68.9 V250.70" stroke="#1a1a1a" stroke-width="0.6" fill="none" opacity="0.8"/>
<text transform="translate(232.6 65.8) rotate(-45)" font-size="7.8" fill="#222" stroke="#222" stroke-width="0.15">pltLys-iTreg</text>
<text transform="translate(258.0 65.8) rotate(-45)" font-size="7.8" fill="#222" stroke="#222" stroke-width="0.15">purTGFβ-iTreg</text>
<text transform="translate(280.4 67.8) rotate(-45)" font-size="7.8" fill="#222" stroke="#222" stroke-width="0.15">Tconv</text>
<rect x="370.3" y="26.2" width="7.8" height="2.4" fill="#111"/>
<rect x="370.3" y="36.3" width="7.8" height="2.0" fill="#8a8a8a"/>
<text x="380.2" y="29.2" font-size="5.8" fill="#2a2a2a" stroke="#2a2a2a" stroke-width="0.08">pltLys-iTreg vs Tconv</text>
<text x="380.2" y="39.2" font-size="5.8" fill="#2a2a2a" stroke="#2a2a2a" stroke-width="0.08">purTGFβ-iTreg vs. Tconv</text>
<rect x="427.35" y="43.90" width="2.18" height="1.60" fill="#858585"/>
<rect x="427.35" y="45.50" width="35.66" height="2.00" fill="#111"/>
<text x="357.2" y="47.50" font-size="6.3" font-style="italic" fill="#2a2a2a" stroke="#2a2a2a" stroke-width="0.08" letter-spacing="0.45" text-anchor="end">Ifng</text>
<rect x="427.35" y="49.99" width="3.35" height="1.60" fill="#858585"/>
<rect x="427.35" y="51.59" width="28.53" height="2.00" fill="#111"/>
<text x="357.2" y="53.59" font-size="6.3" font-style="italic" fill="#2a2a2a" stroke="#2a2a2a" stroke-width="0.08" letter-spacing="0.45" text-anchor="end">Ccl3</text>
<rect x="427.35" y="56.08" width="5.09" height="1.60" fill="#858585"/>
<rect x="427.35" y="57.68" width="18.05" height="2.00" fill="#111"/>
<text x="357.2" y="59.68" font-size="6.3" font-style="italic" fill="#2a2a2a" stroke="#2a2a2a" stroke-width="0.08" letter-spacing="0.45" text-anchor="end">Cd36</text>
<rect x="366.22" y="62.17" width="61.13" height="1.60" fill="#858585"/>
<rect x="412.36" y="63.77" width="14.99" height="2.00" fill="#111"/>
<text x="357.2" y="65.77" font-size="6.3" font-style="italic" fill="#2a2a2a" stroke="#2a2a2a" stroke-width="0.08" letter-spacing="0.45" text-anchor="end">Tg</text>
<rect x="402.61" y="68.26" width="24.74" height="1.60" fill="#858585"/>
<rect x="420.07" y="69.86" width="7.28" height="2.00" fill="#111"/>
<text x="357.2" y="71.86" font-size="6.3" font-style="italic" fill="#2a2a2a" stroke="#2a2a2a" stroke-width="0.08" letter-spacing="0.45" text-anchor="end">Cd83</text>
<rect x="412.79" y="74.35" width="14.56" height="1.60" fill="#858585"/>
<rect x="427.35" y="75.95" width="4.37" height="2.00" fill="#111"/>
<text x="357.2" y="77.95" font-size="6.3" font-style="italic" fill="#2a2a2a" stroke="#2a2a2a" stroke-width="0.08" letter-spacing="0.45" text-anchor="end">Gzmb</text>
<rect x="409.30" y="80.44" width="18.05" height="1.60" fill="#858585"/>
<rect x="427.35" y="82.04" width="2.18" height="2.00" fill="#111"/>
<text x="357.2" y="84.04" font-size="6.3" font-style="italic" fill="#2a2a2a" stroke="#2a2a2a" stroke-width="0.08" letter-spacing="0.45" text-anchor="end">Il2</text>
<rect x="423.86" y="86.53" width="3.49" height="1.60" fill="#858585"/>
<rect x="427.35" y="88.13" width="1.46" height="2.00" fill="#111"/>
<text x="357.2" y="90.13" font-size="6.3" font-style="italic" fill="#2a2a2a" stroke="#2a2a2a" stroke-width="0.08" letter-spacing="0.45" text-anchor="end">Nr4a2</text>
<rect x="423.42" y="92.62" width="3.93" height="1.60" fill="#858585"/>
<rect x="427.35" y="94.22" width="1.46" height="2.00" fill="#111"/>
<text x="357.2" y="96.22" font-size="6.3" font-style="italic" fill="#2a2a2a" stroke="#2a2a2a" stroke-width="0.08" letter-spacing="0.45" text-anchor="end">Fasl</text>
<rect x="420.07" y="98.71" width="7.28" height="1.60" fill="#858585"/>
<rect x="425.89" y="100.31" width="1.46" height="2.00" fill="#111"/>
<text x="357.2" y="102.31" font-size="6.3" font-style="italic" fill="#2a2a2a" stroke="#2a2a2a" stroke-width="0.08" letter-spacing="0.45" text-anchor="end">Nrn1</text>
<rect x="415.12" y="104.80" width="12.23" height="1.60" fill="#858585"/>
<rect x="423.86" y="106.40" width="3.49" height="2.00" fill="#111"/>
<text x="357.2" y="108.40" font-size="6.3" font-style="italic" fill="#2a2a2a" stroke="#2a2a2a" stroke-width="0.08" letter-spacing="0.45" text-anchor="end">Tnfsf14</text>
<rect x="416.87" y="110.89" width="10.48" height="1.60" fill="#858585"/>
<rect x="424.73" y="112.49" width="2.62" height="2.00" fill="#111"/>
<text x="357.2" y="114.49" font-size="6.3" font-style="italic" fill="#2a2a2a" stroke="#2a2a2a" stroke-width="0.08" letter-spacing="0.45" text-anchor="end">Crtam</text>
<rect x="427.35" y="116.98" width="53.86" height="1.60" fill="#858585"/>
<rect x="427.35" y="118.58" width="17.47" height="2.00" fill="#111"/>
<text x="357.2" y="120.58" font-size="6.3" font-style="italic" fill="#2a2a2a" stroke="#2a2a2a" stroke-width="0.08" letter-spacing="0.45" text-anchor="end">Ctla2b</text>
<rect x="427.35" y="123.07" width="8.44" height="1.60" fill="#858585"/>
<rect x="427.35" y="124.67" width="2.04" height="2.00" fill="#111"/>
<text x="357.2" y="126.67" font-size="6.3" font-style="italic" fill="#2a2a2a" stroke="#2a2a2a" stroke-width="0.08" letter-spacing="0.45" text-anchor="end">Acsbg1</text>
<rect x="427.35" y="129.16" width="10.04" height="1.60" fill="#858585"/>
<rect x="427.35" y="130.76" width="2.04" height="2.00" fill="#111"/>
<text x="357.2" y="132.76" font-size="6.3" font-style="italic" fill="#2a2a2a" stroke="#2a2a2a" stroke-width="0.08" letter-spacing="0.45" text-anchor="end">Cd40</text>
<path d="M362.1 43.9 V134.2 H495.4 M427.35 43.4 V134 M359.3 45.10 H362 M359.3 51.19 H362 M359.3 57.28 H362 M359.3 63.37 H362 M359.3 69.46 H362 M359.3 75.55 H362 M359.3 81.64 H362 M359.3 87.73 H362 M359.3 93.82 H362 M359.3 99.91 H362 M359.3 106.00 H362 M359.3 112.09 H362 M359.3 118.18 H362 M359.3 124.27 H362 M359.3 130.36 H362" stroke="#111" stroke-width="1.35" fill="none"/>
<path d="M361.85 134 V137.2 M374.95 134 V137.2 M388.05 134 V137.2 M401.15 134 V137.2 M414.25 134 V137.2 M427.35 134 V137.2 M440.45 134 V137.2 M453.55 134 V137.2 M466.65 134 V137.2 M479.75 134 V137.2 M492.85 134 V137.2" stroke="#111" stroke-width="1.1" fill="none"/>
<text x="361.85" y="145.8" font-size="6" fill="#222" stroke="#222" stroke-width="0.1" text-anchor="middle">-45</text>
<text x="374.95" y="145.8" font-size="6" fill="#222" stroke="#222" stroke-width="0.1" text-anchor="middle">-36</text>
<text x="388.05" y="145.8" font-size="6" fill="#222" stroke="#222" stroke-width="0.1" text-anchor="middle">-27</text>
<text x="401.15" y="145.8" font-size="6" fill="#222" stroke="#222" stroke-width="0.1" text-anchor="middle">-18</text>
<text x="414.25" y="145.8" font-size="6" fill="#222" stroke="#222" stroke-width="0.1" text-anchor="middle">-9</text>
<text x="427.35" y="145.8" font-size="6" fill="#222" stroke="#222" stroke-width="0.1" text-anchor="middle">0</text>
<text x="440.45" y="145.8" font-size="6" fill="#222" stroke="#222" stroke-width="0.1" text-anchor="middle">9</text>
<text x="453.55" y="145.8" font-size="6" fill="#222" stroke="#222" stroke-width="0.1" text-anchor="middle">18</text>
<text x="466.65" y="145.8" font-size="6" fill="#222" stroke="#222" stroke-width="0.1" text-anchor="middle">27</text>
<text x="479.75" y="145.8" font-size="6" fill="#222" stroke="#222" stroke-width="0.1" text-anchor="middle">36</text>
<text x="492.85" y="145.8" font-size="6" fill="#222" stroke="#222" stroke-width="0.1" text-anchor="middle">45</text>
<rect x="358.5" y="150.1" width="137.6" height="1.3" fill="#333"/>
<text transform="translate(427.5 160.5) scale(0.70 1)" font-size="7.6" font-weight="bold" fill="#111" stroke="#111" stroke-width="0.35" text-anchor="middle">Fold change</text>
<rect x="353.3" y="210.3" width="76.89999999999998" height="76.0" fill="#fff" stroke="#111" stroke-width="1.3"/>
<path d="M373.0 285.6 L373.6 275.0 L374.0 260.0 L374.4 245.0 L374.8 228.0 L375.1 218.0 L375.4 214.5 L375.8 218.0 L376.2 230.0 L376.7 245.0 L377.4 258.0 L378.4 272.0 L379.4 281.0 L380.2 285.6 Z" fill="#6e7c9e" fill-opacity="0.9" stroke="#26386a" stroke-width="1.15"/>
<path d="M373.4 285.6 L374.6 275.0 L375.6 262.0 L376.3 250.0 L376.9 240.0 L377.4 232.0 L377.9 226.0 L378.5 222.6 L379.1 223.0 L379.7 220.2 L380.3 219.8 L380.8 223.5 L381.2 230.0 L381.7 236.5 L382.3 241.0 L383.0 243.4 L383.5 247.0 L384.3 256.0 L385.3 265.0 L386.5 273.0 L387.9 279.0 L389.3 283.0 L390.8 285.6 Z" fill="rgb(222,128,128)" fill-opacity="0.45" stroke="#7e1538" stroke-width="1.1"/>
<path d="M349.90 284.40 H353.3 M351.50 281.57 H353.3 M351.50 278.74 H353.3 M351.50 275.90 H353.3 M351.50 273.07 H353.3 M349.90 270.24 H353.3 M351.50 267.41 H353.3 M351.50 264.58 H353.3 M351.50 261.74 H353.3 M351.50 258.91 H353.3 M349.90 256.08 H353.3 M351.50 253.25 H353.3 M351.50 250.42 H353.3 M351.50 247.58 H353.3 M351.50 244.75 H353.3 M349.90 241.92 H353.3 M351.50 239.09 H353.3 M351.50 236.26 H353.3 M351.50 233.42 H353.3 M351.50 230.59 H353.3 M349.90 227.76 H353.3 M351.50 224.93 H353.3 M351.50 222.10 H353.3 M351.50 219.26 H353.3 M351.50 216.43 H353.3 M349.90 213.60 H353.3" stroke="#111" stroke-width="0.9" fill="none"/>
<path d="M358.90 286.3 V289.1 M370.90 286.3 V289.1 M385.10 286.3 V289.1 M404.10 286.3 V289.1 M422.40 286.3 V289.1" stroke="#111" stroke-width="0.9" fill="none"/>
<path d="M359.45 286.3 V288.0 M360.06 286.3 V288.0 M360.76 286.3 V288.0 M361.56 286.3 V288.0 M362.51 286.3 V288.0 M363.68 286.3 V288.0 M365.18 286.3 V288.0 M367.29 286.3 V288.0 M375.17 286.3 V288.0 M377.67 286.3 V288.0 M379.45 286.3 V288.0 M380.83 286.3 V288.0 M381.95 286.3 V288.0 M382.90 286.3 V288.0 M383.72 286.3 V288.0 M384.45 286.3 V288.0 M390.82 286.3 V288.0 M394.16 286.3 V288.0 M396.54 286.3 V288.0 M398.38 286.3 V288.0 M399.88 286.3 V288.0 M401.16 286.3 V288.0 M402.26 286.3 V288.0 M403.23 286.3 V288.0 M409.61 286.3 V288.0 M412.83 286.3 V288.0 M415.12 286.3 V288.0 M416.89 286.3 V288.0 M418.34 286.3 V288.0 M419.56 286.3 V288.0 M420.62 286.3 V288.0 M421.56 286.3 V288.0" stroke="#111" stroke-width="0.75" fill="none"/>
<text x="347.0" y="287.20" font-size="8.2" fill="#333" stroke="#333" stroke-width="0.15" text-anchor="end">0</text>
<text x="347.0" y="273.04" font-size="8.2" fill="#333" stroke="#333" stroke-width="0.15" text-anchor="end">20</text>
<text x="347.0" y="258.88" font-size="8.2" fill="#333" stroke="#333" stroke-width="0.15" text-anchor="end">40</text>
<text x="347.0" y="244.72" font-size="8.2" fill="#333" stroke="#333" stroke-width="0.15" text-anchor="end">60</text>
<text x="347.0" y="230.56" font-size="8.2" fill="#333" stroke="#333" stroke-width="0.15" text-anchor="end">80</text>
<text x="347.0" y="216.40" font-size="8.2" fill="#333" stroke="#333" stroke-width="0.15" text-anchor="end">100</text>
<text x="352.90" y="300.8" font-size="7.4" fill="#333" stroke="#333" stroke-width="0.12">10<tspan dy="-3.4" font-size="5" letter-spacing="-0.3">-3</tspan></text>
<text x="370.90" y="300.8" font-size="7.4" fill="#333" stroke="#333" stroke-width="0.12" text-anchor="middle">0</text>
<text x="379.30" y="300.8" font-size="7.4" fill="#333" stroke="#333" stroke-width="0.12">10<tspan dy="-3.4" font-size="5" letter-spacing="-0.3">3</tspan></text>
<text x="398.30" y="300.8" font-size="7.4" fill="#333" stroke="#333" stroke-width="0.12">10<tspan dy="-3.4" font-size="5" letter-spacing="-0.3">4</tspan></text>
<text x="416.60" y="300.8" font-size="7.4" fill="#333" stroke="#333" stroke-width="0.12">10<tspan dy="-3.4" font-size="5" letter-spacing="-0.3">5</tspan></text>
<rect x="436.5" y="210.3" width="76.20000000000005" height="76.0" fill="#fff" stroke="#111" stroke-width="1.3"/>
<path d="M454.6 285.6 L455.2 275.0 L455.7 260.0 L456.2 245.0 L456.7 230.0 L457.3 220.0 L457.8 216.2 L458.2 220.0 L458.7 232.0 L459.3 245.0 L460.2 258.0 L461.3 270.0 L462.4 280.0 L463.2 285.6 Z" fill="#6e7c9e" fill-opacity="0.9" stroke="#26386a" stroke-width="1.15"/>
<path d="M455.0 285.6 L456.0 275.0 L457.0 262.0 L457.8 250.0 L458.6 238.0 L459.3 232.0 L460.4 229.0 L461.7 227.1 L462.5 232.0 L463.1 240.0 L463.5 250.0 L464.3 258.0 L465.3 265.0 L466.2 271.0 L467.2 275.0 L468.6 279.0 L470.0 281.5 L471.5 283.5 L473.5 284.8 L476.2 285.6 Z" fill="rgb(222,128,128)" fill-opacity="0.45" stroke="#7e1538" stroke-width="1.1"/>
<path d="M433.10 284.40 H436.5 M434.70 281.57 H436.5 M434.70 278.74 H436.5 M434.70 275.90 H436.5 M434.70 273.07 H436.5 M433.10 270.24 H436.5 M434.70 267.41 H436.5 M434.70 264.58 H436.5 M434.70 261.74 H436.5 M434.70 258.91 H436.5 M433.10 256.08 H436.5 M434.70 253.25 H436.5 M434.70 250.42 H436.5 M434.70 247.58 H436.5 M434.70 244.75 H436.5 M433.10 241.92 H436.5 M434.70 239.09 H436.5 M434.70 236.26 H436.5 M434.70 233.42 H436.5 M434.70 230.59 H436.5 M433.10 227.76 H436.5 M434.70 224.93 H436.5 M434.70 222.10 H436.5 M434.70 219.26 H436.5 M434.70 216.43 H436.5 M433.10 213.60 H436.5" stroke="#111" stroke-width="0.9" fill="none"/>
<path d="M441.40 286.3 V289.1 M451.80 286.3 V289.1 M467.30 286.3 V289.1 M485.80 286.3 V289.1 M504.30 286.3 V289.1" stroke="#111" stroke-width="0.9" fill="none"/>
<path d="M441.88 286.3 V288.0 M442.41 286.3 V288.0 M443.01 286.3 V288.0 M443.71 286.3 V288.0 M444.53 286.3 V288.0 M445.54 286.3 V288.0 M446.84 286.3 V288.0 M448.67 286.3 V288.0 M456.47 286.3 V288.0 M459.19 286.3 V288.0 M461.13 286.3 V288.0 M462.63 286.3 V288.0 M463.86 286.3 V288.0 M464.90 286.3 V288.0 M465.80 286.3 V288.0 M466.59 286.3 V288.0 M472.87 286.3 V288.0 M476.12 286.3 V288.0 M478.44 286.3 V288.0 M480.23 286.3 V288.0 M481.69 286.3 V288.0 M482.93 286.3 V288.0 M484.01 286.3 V288.0 M484.95 286.3 V288.0 M491.37 286.3 V288.0 M494.62 286.3 V288.0 M496.94 286.3 V288.0 M498.73 286.3 V288.0 M500.19 286.3 V288.0 M501.43 286.3 V288.0 M502.51 286.3 V288.0 M503.45 286.3 V288.0" stroke="#111" stroke-width="0.75" fill="none"/>
<text x="435.40" y="300.8" font-size="7.4" fill="#333" stroke="#333" stroke-width="0.12">10<tspan dy="-3.4" font-size="5" letter-spacing="-0.3">-3</tspan></text>
<text x="451.80" y="300.8" font-size="7.4" fill="#333" stroke="#333" stroke-width="0.12" text-anchor="middle">0</text>
<text x="461.50" y="300.8" font-size="7.4" fill="#333" stroke="#333" stroke-width="0.12">10<tspan dy="-3.4" font-size="5" letter-spacing="-0.3">3</tspan></text>
<text x="480.00" y="300.8" font-size="7.4" fill="#333" stroke="#333" stroke-width="0.12">10<tspan dy="-3.4" font-size="5" letter-spacing="-0.3">4</tspan></text>
<text x="498.50" y="300.8" font-size="7.4" fill="#333" stroke="#333" stroke-width="0.12">10<tspan dy="-3.4" font-size="5" letter-spacing="-0.3">5</tspan></text>
<rect x="369.2" y="309.9" width="12.4" height="1.3" fill="#7ab8d8"/>
<text x="384.6" y="313.2" font-size="7.3" fill="#333">purTGFβ-iTreg</text>
<rect x="443" y="309.9" width="12.4" height="1.3" fill="#8b1538"/>
<text x="458.5" y="313.2" font-size="7.3" fill="#333">pltLys-iTreg</text>
<rect x="0" y="0" width="520" height="1.2" fill="#000"/>
<rect x="0" y="0" width="1.3" height="351" fill="#000"/>
<rect x="517.8" y="0" width="2.2" height="351" fill="#000"/>
<rect x="0" y="349.1" width="520" height="1.9" fill="#000"/>
</svg></body></html>
